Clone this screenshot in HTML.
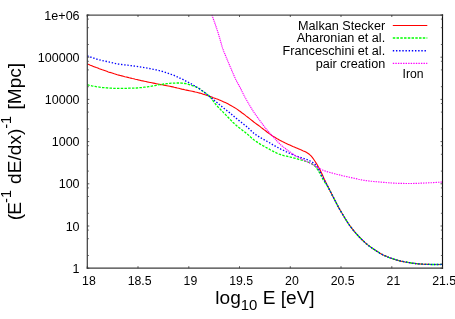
<!DOCTYPE html>
<html><head><meta charset="utf-8"><title>plot</title>
<style>html,body{margin:0;padding:0;background:#fff;}body{width:455px;height:319px;overflow:hidden;position:relative;font-family:"Liberation Sans",sans-serif;}</style></head>
<body>
<svg width="455" height="319" viewBox="0 0 455 319" style="filter:blur(0.35px);position:absolute;left:0;top:0;font-family:'Liberation Sans',sans-serif">
<rect width="455" height="319" fill="#fff"/>
<g fill="none" stroke-linejoin="round">
<path d="M87.3,63.9 L88.8,64.5 L90.3,65.2 L91.8,65.8 L93.3,66.4 L94.8,67.0 L96.3,67.6 L97.8,68.1 L99.3,68.7 L100.8,69.2 L102.3,69.8 L103.8,70.3 L105.3,70.8 L106.8,71.3 L108.3,71.9 L109.8,72.4 L111.3,72.8 L112.8,73.3 L114.3,73.8 L115.8,74.2 L117.3,74.7 L118.8,75.1 L120.3,75.5 L121.8,75.9 L123.3,76.3 L124.8,76.7 L126.3,77.0 L127.8,77.4 L129.3,77.8 L130.8,78.1 L132.3,78.5 L133.8,78.8 L135.3,79.2 L136.8,79.5 L138.3,79.9 L139.8,80.2 L141.3,80.6 L142.8,80.9 L144.3,81.2 L145.8,81.5 L147.3,81.9 L148.8,82.2 L150.3,82.5 L151.8,82.8 L153.3,83.1 L154.8,83.4 L156.3,83.7 L157.8,84.0 L159.3,84.3 L160.8,84.6 L162.3,84.8 L163.8,85.1 L165.3,85.4 L166.8,85.7 L168.3,86.0 L169.8,86.3 L171.3,86.6 L172.8,86.9 L174.3,87.3 L175.8,87.6 L177.3,88.0 L178.8,88.3 L180.3,88.7 L181.8,89.1 L183.3,89.4 L184.8,89.8 L186.3,90.1 L187.8,90.4 L189.3,90.7 L190.8,91.0 L192.3,91.3 L193.8,91.6 L195.3,92.0 L196.8,92.3 L198.3,92.7 L199.8,93.1 L201.3,93.6 L202.8,94.1 L204.3,94.5 L205.8,95.1 L207.3,95.6 L208.8,96.1 L210.3,96.6 L211.8,97.1 L213.3,97.7 L214.8,98.2 L216.3,98.8 L217.8,99.3 L219.3,99.9 L220.8,100.6 L222.3,101.2 L223.8,101.9 L225.3,102.6 L226.8,103.3 L228.3,104.1 L229.8,104.9 L231.3,105.7 L232.8,106.6 L234.3,107.5 L235.8,108.4 L237.3,109.4 L238.8,110.5 L240.3,111.5 L241.8,112.7 L243.3,113.8 L244.8,114.9 L246.3,116.1 L247.8,117.2 L249.3,118.4 L250.8,119.6 L252.3,120.8 L253.8,122.0 L255.3,123.1 L256.8,124.2 L258.3,125.3 L259.8,126.4 L261.3,127.6 L262.8,128.7 L264.3,129.9 L265.8,131.0 L267.3,132.2 L268.8,133.3 L270.3,134.4 L271.8,135.5 L273.3,136.4 L274.8,137.3 L276.3,138.2 L277.8,139.1 L279.3,139.9 L280.8,140.7 L282.3,141.5 L283.8,142.2 L285.3,143.0 L286.8,143.7 L288.3,144.4 L289.8,145.1 L291.3,145.8 L292.8,146.5 L294.3,147.1 L295.8,147.7 L297.3,148.3 L298.8,148.9 L300.3,149.6 L301.8,150.2 L303.3,150.9 L304.8,151.5 L306.3,152.3 L307.8,153.2 L309.3,154.3 L310.8,155.7 L312.3,157.4 L313.8,159.5 L315.3,161.8 L316.8,164.1 L318.3,166.7 L319.8,169.5 L321.3,172.5 L322.8,175.8 L324.3,179.3 L325.8,182.3 L327.3,185.2 L328.8,188.2 L330.3,191.2 L331.8,194.2 L333.3,197.2 L334.8,200.1 L336.3,203.0 L337.8,205.9 L339.3,208.7 L340.8,211.3 L342.3,213.8 L343.8,216.3 L345.3,218.8 L346.8,221.2 L348.3,223.5 L349.8,225.6 L351.3,227.6 L352.8,229.6 L354.3,231.4 L355.8,233.2 L357.3,234.8 L358.8,236.5 L360.3,238.0 L361.8,239.5 L363.3,240.9 L364.8,242.3 L366.3,243.7 L367.8,244.9 L369.3,246.1 L370.8,247.1 L372.3,248.2 L373.8,249.2 L375.3,250.2 L376.8,251.2 L378.3,252.1 L379.8,253.1 L381.3,254.0 L382.8,254.8 L384.3,255.5 L385.8,256.1 L387.3,256.8 L388.8,257.4 L390.3,257.9 L391.8,258.4 L393.3,258.9 L394.8,259.4 L396.3,259.9 L397.8,260.3 L399.3,260.7 L400.8,261.1 L402.3,261.4 L403.8,261.7 L405.3,262.0 L406.8,262.2 L408.3,262.5 L409.8,262.7 L411.3,263.0 L412.8,263.2 L414.3,263.4 L415.8,263.6 L417.3,263.8 L418.8,263.9 L420.3,264.0 L421.8,264.1 L423.3,264.2 L424.8,264.3 L426.3,264.3 L427.8,264.4 L429.3,264.4 L430.8,264.5 L432.3,264.5 L433.8,264.5 L435.3,264.5 L436.8,264.5 L438.3,264.5 L439.8,264.5 L441.3,264.4 L442.5,264.4" stroke="#ff0000" stroke-width="1.1"/>
<path d="M87.3,84.7 L88.8,85.1 L90.3,85.4 L91.8,85.8 L93.3,86.1 L94.8,86.4 L96.3,86.7 L97.8,86.9 L99.3,87.1 L100.8,87.3 L102.3,87.5 L103.8,87.6 L105.3,87.7 L106.8,87.9 L108.3,88.0 L109.8,88.1 L111.3,88.2 L112.8,88.3 L114.3,88.3 L115.8,88.4 L117.3,88.4 L118.8,88.4 L120.3,88.4 L121.8,88.4 L123.3,88.4 L124.8,88.3 L126.3,88.3 L127.8,88.3 L129.3,88.2 L130.8,88.2 L132.3,88.2 L133.8,88.1 L135.3,88.1 L136.8,88.0 L138.3,87.9 L139.8,87.7 L141.3,87.6 L142.8,87.4 L144.3,87.2 L145.8,87.0 L147.3,86.8 L148.8,86.6 L150.3,86.4 L151.8,86.1 L153.3,85.9 L154.8,85.6 L156.3,85.3 L157.8,85.0 L159.3,84.7 L160.8,84.5 L162.3,84.3 L163.8,84.0 L165.3,83.8 L166.8,83.6 L168.3,83.5 L169.8,83.3 L171.3,83.2 L172.8,83.2 L174.3,83.1 L175.8,83.0 L177.3,83.0 L178.8,83.0 L180.3,83.0 L181.8,83.1 L183.3,83.3 L184.8,83.5 L186.3,83.7 L187.8,84.1 L189.3,84.6 L190.8,85.1 L192.3,85.6 L193.8,86.2 L195.3,86.7 L196.8,87.4 L198.3,88.1 L199.8,89.0 L201.3,90.1 L202.8,91.2 L204.3,92.3 L205.8,93.3 L207.3,94.5 L208.8,95.7 L210.3,97.2 L211.8,99.1 L213.3,101.1 L214.8,103.1 L216.3,105.0 L217.8,106.7 L219.3,108.2 L220.8,109.8 L222.3,111.3 L223.8,112.9 L225.3,114.4 L226.8,116.0 L228.3,117.5 L229.8,119.1 L231.3,120.6 L232.8,122.2 L234.3,123.6 L235.8,124.9 L237.3,126.2 L238.8,127.4 L240.3,128.6 L241.8,129.8 L243.3,130.9 L244.8,132.1 L246.3,133.3 L247.8,134.5 L249.3,135.8 L250.8,137.2 L252.3,138.5 L253.8,139.8 L255.3,140.9 L256.8,141.9 L258.3,142.9 L259.8,143.9 L261.3,144.7 L262.8,145.6 L264.3,146.4 L265.8,147.3 L267.3,148.1 L268.8,148.9 L270.3,149.8 L271.8,150.6 L273.3,151.4 L274.8,152.2 L276.3,152.9 L277.8,153.6 L279.3,154.2 L280.8,154.7 L282.3,155.2 L283.8,155.6 L285.3,155.9 L286.8,156.2 L288.3,156.6 L289.8,156.9 L291.3,157.3 L292.8,157.7 L294.3,158.1 L295.8,158.5 L297.3,158.9 L298.8,159.4 L300.3,159.8 L301.8,160.2 L303.3,160.6 L304.8,161.0 L306.3,161.5 L307.8,162.0 L309.3,162.6 L310.8,163.3 L312.3,164.1 L313.8,165.1 L315.3,166.5 L316.8,168.4 L318.3,170.6 L319.8,173.2 L321.3,176.3 L322.8,179.2 L324.3,181.5 L325.8,183.6 L327.3,185.9 L328.8,188.6 L330.3,191.4 L331.8,194.3 L333.3,197.2 L334.8,200.1 L336.3,203.0 L337.8,205.9 L339.3,208.7 L340.8,211.3 L342.3,213.8 L343.8,216.3 L345.3,218.8 L346.8,221.2 L348.3,223.5 L349.8,225.6 L351.3,227.6 L352.8,229.6 L354.3,231.4 L355.8,233.2 L357.3,234.8 L358.8,236.5 L360.3,238.0 L361.8,239.5 L363.3,240.9 L364.8,242.3 L366.3,243.7 L367.8,244.9 L369.3,246.1 L370.8,247.1 L372.3,248.2 L373.8,249.2 L375.3,250.2 L376.8,251.2 L378.3,252.1 L379.8,253.1 L381.3,254.0 L382.8,254.8 L384.3,255.5 L385.8,256.1 L387.3,256.8 L388.8,257.4 L390.3,257.9 L391.8,258.4 L393.3,258.9 L394.8,259.4 L396.3,259.9 L397.8,260.3 L399.3,260.7 L400.8,261.1 L402.3,261.4 L403.8,261.7 L405.3,262.0 L406.8,262.2 L408.3,262.5 L409.8,262.7 L411.3,263.0 L412.8,263.2 L414.3,263.4 L415.8,263.6 L417.3,263.8 L418.8,263.9 L420.3,264.0 L421.8,264.1 L423.3,264.2 L424.8,264.3 L426.3,264.3 L427.8,264.4 L429.3,264.4 L430.8,264.5 L432.3,264.5 L433.8,264.5 L435.3,264.5 L436.8,264.5 L438.3,264.5 L439.8,264.5 L441.3,264.4 L442.5,264.4" stroke="#00ff00" stroke-width="1.3" stroke-dasharray="2.45 1.3"/>
<path d="M87.3,55.9 L88.8,56.5 L90.3,57.0 L91.8,57.5 L93.3,58.0 L94.8,58.5 L96.3,59.0 L97.8,59.4 L99.3,59.8 L100.8,60.2 L102.3,60.6 L103.8,60.9 L105.3,61.2 L106.8,61.5 L108.3,61.8 L109.8,62.2 L111.3,62.5 L112.8,62.9 L114.3,63.3 L115.8,63.6 L117.3,63.9 L118.8,64.1 L120.3,64.3 L121.8,64.5 L123.3,64.7 L124.8,64.9 L126.3,65.1 L127.8,65.2 L129.3,65.4 L130.8,65.6 L132.3,65.8 L133.8,66.0 L135.3,66.2 L136.8,66.4 L138.3,66.6 L139.8,66.9 L141.3,67.1 L142.8,67.4 L144.3,67.6 L145.8,67.9 L147.3,68.1 L148.8,68.4 L150.3,68.7 L151.8,69.0 L153.3,69.3 L154.8,69.6 L156.3,69.9 L157.8,70.3 L159.3,70.6 L160.8,71.0 L162.3,71.4 L163.8,71.8 L165.3,72.3 L166.8,72.8 L168.3,73.3 L169.8,73.8 L171.3,74.4 L172.8,74.9 L174.3,75.5 L175.8,76.2 L177.3,76.8 L178.8,77.5 L180.3,78.3 L181.8,79.0 L183.3,79.7 L184.8,80.5 L186.3,81.3 L187.8,82.0 L189.3,82.8 L190.8,83.6 L192.3,84.4 L193.8,85.3 L195.3,86.1 L196.8,87.1 L198.3,88.0 L199.8,89.0 L201.3,90.1 L202.8,91.2 L204.3,92.3 L205.8,93.5 L207.3,94.7 L208.8,95.8 L210.3,97.0 L211.8,98.2 L213.3,99.4 L214.8,100.7 L216.3,101.9 L217.8,103.2 L219.3,104.5 L220.8,105.7 L222.3,107.0 L223.8,108.2 L225.3,109.4 L226.8,110.5 L228.3,111.7 L229.8,112.9 L231.3,114.1 L232.8,115.4 L234.3,116.7 L235.8,118.0 L237.3,119.2 L238.8,120.4 L240.3,121.5 L241.8,122.7 L243.3,123.9 L244.8,125.1 L246.3,126.3 L247.8,127.6 L249.3,129.0 L250.8,130.4 L252.3,131.8 L253.8,133.2 L255.3,134.3 L256.8,135.4 L258.3,136.3 L259.8,137.2 L261.3,138.1 L262.8,139.0 L264.3,139.8 L265.8,140.6 L267.3,141.5 L268.8,142.4 L270.3,143.2 L271.8,144.1 L273.3,145.0 L274.8,145.8 L276.3,146.7 L277.8,147.5 L279.3,148.3 L280.8,149.1 L282.3,149.8 L283.8,150.5 L285.3,151.3 L286.8,152.0 L288.3,152.6 L289.8,153.3 L291.3,154.0 L292.8,154.6 L294.3,155.2 L295.8,155.8 L297.3,156.4 L298.8,156.9 L300.3,157.4 L301.8,158.0 L303.3,158.4 L304.8,158.9 L306.3,159.4 L307.8,159.9 L309.3,160.6 L310.8,161.3 L312.3,162.2 L313.8,163.2 L315.3,164.6 L316.8,166.5 L318.3,168.7 L319.8,171.4 L321.3,174.4 L322.8,177.4 L324.3,180.2 L325.8,182.9 L327.3,185.6 L328.8,188.4 L330.3,191.4 L331.8,194.3 L333.3,197.2 L334.8,200.1 L336.3,203.0 L337.8,205.9 L339.3,208.7 L340.8,211.3 L342.3,213.8 L343.8,216.3 L345.3,218.8 L346.8,221.2 L348.3,223.5 L349.8,225.6 L351.3,227.6 L352.8,229.6 L354.3,231.4 L355.8,233.2 L357.3,234.8 L358.8,236.5 L360.3,238.0 L361.8,239.5 L363.3,240.9 L364.8,242.3 L366.3,243.7 L367.8,244.9 L369.3,246.1 L370.8,247.1 L372.3,248.2 L373.8,249.2 L375.3,250.2 L376.8,251.2 L378.3,252.1 L379.8,253.1 L381.3,254.0 L382.8,254.8 L384.3,255.5 L385.8,256.1 L387.3,256.8 L388.8,257.4 L390.3,257.9 L391.8,258.4 L393.3,258.9 L394.8,259.4 L396.3,259.9 L397.8,260.3 L399.3,260.7 L400.8,261.1 L402.3,261.4 L403.8,261.7 L405.3,262.0 L406.8,262.2 L408.3,262.5 L409.8,262.7 L411.3,263.0 L412.8,263.2 L414.3,263.4 L415.8,263.6 L417.3,263.8 L418.8,263.9 L420.3,264.0 L421.8,264.1 L423.3,264.2 L424.8,264.3 L426.3,264.3 L427.8,264.4 L429.3,264.4 L430.8,264.5 L432.3,264.5 L433.8,264.5 L435.3,264.5 L436.8,264.5 L438.3,264.5 L439.8,264.5 L441.3,264.4 L442.5,264.4" stroke="#0000ff" stroke-width="1.35" stroke-dasharray="1.4 1.77"/>
<path d="M211.9,15.0 L213.4,19.1 L214.9,23.3 L216.4,27.7 L217.9,32.3 L219.4,37.1 L220.9,42.5 L222.4,47.7 L223.9,51.7 L225.4,55.3 L226.9,58.9 L228.4,62.5 L229.9,66.0 L231.4,69.5 L232.9,73.1 L234.4,76.5 L235.9,79.7 L237.4,82.6 L238.9,85.3 L240.4,88.1 L241.9,91.2 L243.4,94.2 L244.9,97.1 L246.4,99.8 L247.9,102.4 L249.4,105.0 L250.9,107.5 L252.4,109.9 L253.9,112.2 L255.4,114.4 L256.9,116.5 L258.4,118.6 L259.9,120.6 L261.4,122.7 L262.9,124.7 L264.4,126.7 L265.9,128.6 L267.4,130.5 L268.9,132.2 L270.4,133.9 L271.9,135.5 L273.4,137.1 L274.9,138.7 L276.4,140.4 L277.9,142.0 L279.4,143.5 L280.9,144.9 L282.4,146.2 L283.9,147.4 L285.4,148.5 L286.9,149.7 L288.4,150.8 L289.9,151.9 L291.4,153.0 L292.9,154.0 L294.4,155.0 L295.9,155.9 L297.4,156.8 L298.9,157.6 L300.0,158.2" stroke="#ff00ff" stroke-width="1.15" stroke-dasharray="1.25 0.75"/>
<path d="M300.0,158.2 L301.5,159.0 L303.0,159.7 L304.5,160.4 L306.0,161.2 L307.5,161.9 L309.0,162.6 L310.5,163.4 L312.0,164.1 L313.5,164.9 L315.0,165.8 L316.5,166.8 L318.0,167.7 L319.5,168.6 L321.0,169.3 L322.5,170.0 L324.0,170.6 L325.5,171.1 L327.0,171.6 L328.5,172.1 L330.0,172.5 L331.5,172.9 L333.0,173.3 L334.5,173.7 L336.0,174.1 L337.5,174.5 L339.0,174.8 L340.5,175.2 L342.0,175.6 L343.5,175.9 L345.0,176.3 L346.5,176.6 L348.0,176.9 L349.5,177.3 L351.0,177.6 L352.5,177.9 L354.0,178.2 L355.5,178.6 L357.0,178.9 L358.5,179.3 L360.0,179.6 L361.5,179.9 L363.0,180.2 L364.5,180.4 L366.0,180.6 L367.5,180.8 L369.0,181.0 L370.5,181.2 L372.0,181.3 L373.5,181.5 L375.0,181.6 L376.5,181.7 L378.0,181.9 L379.5,182.0 L381.0,182.1 L382.5,182.3 L384.0,182.4 L385.5,182.5 L387.0,182.7 L388.5,182.8 L390.0,182.9 L391.5,183.0 L393.0,183.1 L394.5,183.1 L396.0,183.2 L397.5,183.3 L399.0,183.3 L400.5,183.4 L402.0,183.4 L403.5,183.4 L405.0,183.5 L406.5,183.5 L408.0,183.5 L409.5,183.5 L411.0,183.5 L412.5,183.5 L414.0,183.4 L415.5,183.4 L417.0,183.3 L418.5,183.3 L420.0,183.2 L421.5,183.1 L423.0,183.1 L424.5,183.0 L426.0,183.0 L427.5,182.9 L429.0,182.8 L430.5,182.7 L432.0,182.7 L433.5,182.6 L435.0,182.5 L436.5,182.4 L438.0,182.3 L439.5,182.2 L441.0,182.1 L442.5,182.0" stroke="#ff00ff" stroke-width="1.15" stroke-dasharray="1.4 1.1"/>
<path d="M392.8,25.5 H427.3" stroke="#ff0000" stroke-width="1.1"/>
<path d="M392.8,38 H427.3" stroke="#00ff00" stroke-width="1.3" stroke-dasharray="2.45 1.3"/>
<path d="M392.8,50.7 H427.3" stroke="#0000ff" stroke-width="1.35" stroke-dasharray="1.4 1.77"/>
<path d="M392.8,63.3 H427.3" stroke="#ff00ff" stroke-width="1.15" stroke-dasharray="1.4 1.16"/>
</g>
<g fill="none" stroke-linecap="square"><path d="M87.3,15.1 H442.5" stroke="#4a4a4a" stroke-width="1.25"/><path d="M87.3,15.0 V268.2" stroke="#3c3c3c" stroke-width="1.2"/><path d="M87.3,268.2 H442.5" stroke="#3c3c3c" stroke-width="1.2"/><path d="M442.5,15.0 V268.2" stroke="#111" stroke-width="1.15"/></g>
<path d="M87.3,268.2 v-2 M87.3,15.0 v2 M138.0,268.2 v-2 M138.0,15.0 v2 M188.8,268.2 v-2 M188.8,15.0 v2 M239.5,268.2 v-2 M239.5,15.0 v2 M290.3,268.2 v-2 M290.3,15.0 v2 M341.0,268.2 v-2 M341.0,15.0 v2 M391.8,268.2 v-2 M391.8,15.0 v2 M442.5,268.2 v-2 M442.5,15.0 v2 M87.3,15.0 h2 M442.5,15.0 h-2 M87.3,57.2 h2 M442.5,57.2 h-2 M87.3,99.4 h2 M442.5,99.4 h-2 M87.3,141.6 h2 M442.5,141.6 h-2 M87.3,183.8 h2 M442.5,183.8 h-2 M87.3,226.0 h2 M442.5,226.0 h-2 M87.3,268.2 h2 M442.5,268.2 h-2" stroke="#333" stroke-width="0.8" fill="none"/>
<path d="M87.3,44.5 h1.6 M442.5,44.5 h-1.6 M87.3,27.7 h1.6 M442.5,27.7 h-1.6 M87.3,19.1 h1.6 M442.5,19.1 h-1.6 M87.3,86.7 h1.6 M442.5,86.7 h-1.6 M87.3,69.9 h1.6 M442.5,69.9 h-1.6 M87.3,61.3 h1.6 M442.5,61.3 h-1.6 M87.3,128.9 h1.6 M442.5,128.9 h-1.6 M87.3,112.1 h1.6 M442.5,112.1 h-1.6 M87.3,103.5 h1.6 M442.5,103.5 h-1.6 M87.3,171.1 h1.6 M442.5,171.1 h-1.6 M87.3,154.3 h1.6 M442.5,154.3 h-1.6 M87.3,145.7 h1.6 M442.5,145.7 h-1.6 M87.3,213.3 h1.6 M442.5,213.3 h-1.6 M87.3,196.5 h1.6 M442.5,196.5 h-1.6 M87.3,187.9 h1.6 M442.5,187.9 h-1.6 M87.3,255.5 h1.6 M442.5,255.5 h-1.6 M87.3,238.7 h1.6 M442.5,238.7 h-1.6 M87.3,230.1 h1.6 M442.5,230.1 h-1.6" stroke="#444" stroke-width="0.8" fill="none"/>
<g font-size="12.55" fill="#000">
<text x="79.6" y="19.6" text-anchor="end">1e+06</text>
<text x="79.6" y="61.8" text-anchor="end">100000</text>
<text x="79.6" y="104.0" text-anchor="end">10000</text>
<text x="79.6" y="146.2" text-anchor="end">1000</text>
<text x="79.6" y="188.4" text-anchor="end">100</text>
<text x="79.6" y="230.6" text-anchor="end">10</text>
<text x="79.6" y="272.8" text-anchor="end">1</text>
<text x="88.9" y="284.8" font-size="12.3" text-anchor="middle">18</text>
<text x="139.6" y="284.8" font-size="12.3" text-anchor="middle">18.5</text>
<text x="190.4" y="284.8" font-size="12.3" text-anchor="middle">19</text>
<text x="241.1" y="284.8" font-size="12.3" text-anchor="middle">19.5</text>
<text x="291.9" y="284.8" font-size="12.3" text-anchor="middle">20</text>
<text x="342.6" y="284.8" font-size="12.3" text-anchor="middle">20.5</text>
<text x="393.4" y="284.8" font-size="12.3" text-anchor="middle">21</text>
<text x="444.1" y="284.8" font-size="12.3" text-anchor="middle">21.5</text>
<text x="385.2" y="29.60" font-size="12.65" text-anchor="end">Malkan Stecker</text>
<text x="385.2" y="42.27" font-size="12.65" text-anchor="end">Aharonian et al.</text>
<text x="385.2" y="54.94" font-size="12.65" text-anchor="end">Franceschini et al.</text>
<text x="385.2" y="67.61" font-size="12.65" text-anchor="end">pair creation</text>
<text x="402.5" y="77.7" font-size="12.2">Iron</text>
</g>
<text x="215.3" y="304" font-size="19.1" fill="#000">log<tspan font-size="14.9" dy="5.8">10</tspan><tspan dy="-5.8"> E [eV]</tspan></text>
<text transform="translate(20.7,220.3) rotate(-90)" font-size="19.1" fill="#000">(<tspan dx="-0.7">E</tspan><tspan font-size="14.5" dy="-9.3" dx="-1.0">-1</tspan><tspan dy="9.3" dx="0.8"> dE/dx)</tspan><tspan font-size="14.5" dy="-9.3" dx="-0.1">-1</tspan><tspan dy="9.3" dx="1.0"> [Mpc]</tspan></text>
</svg>
</body></html>
